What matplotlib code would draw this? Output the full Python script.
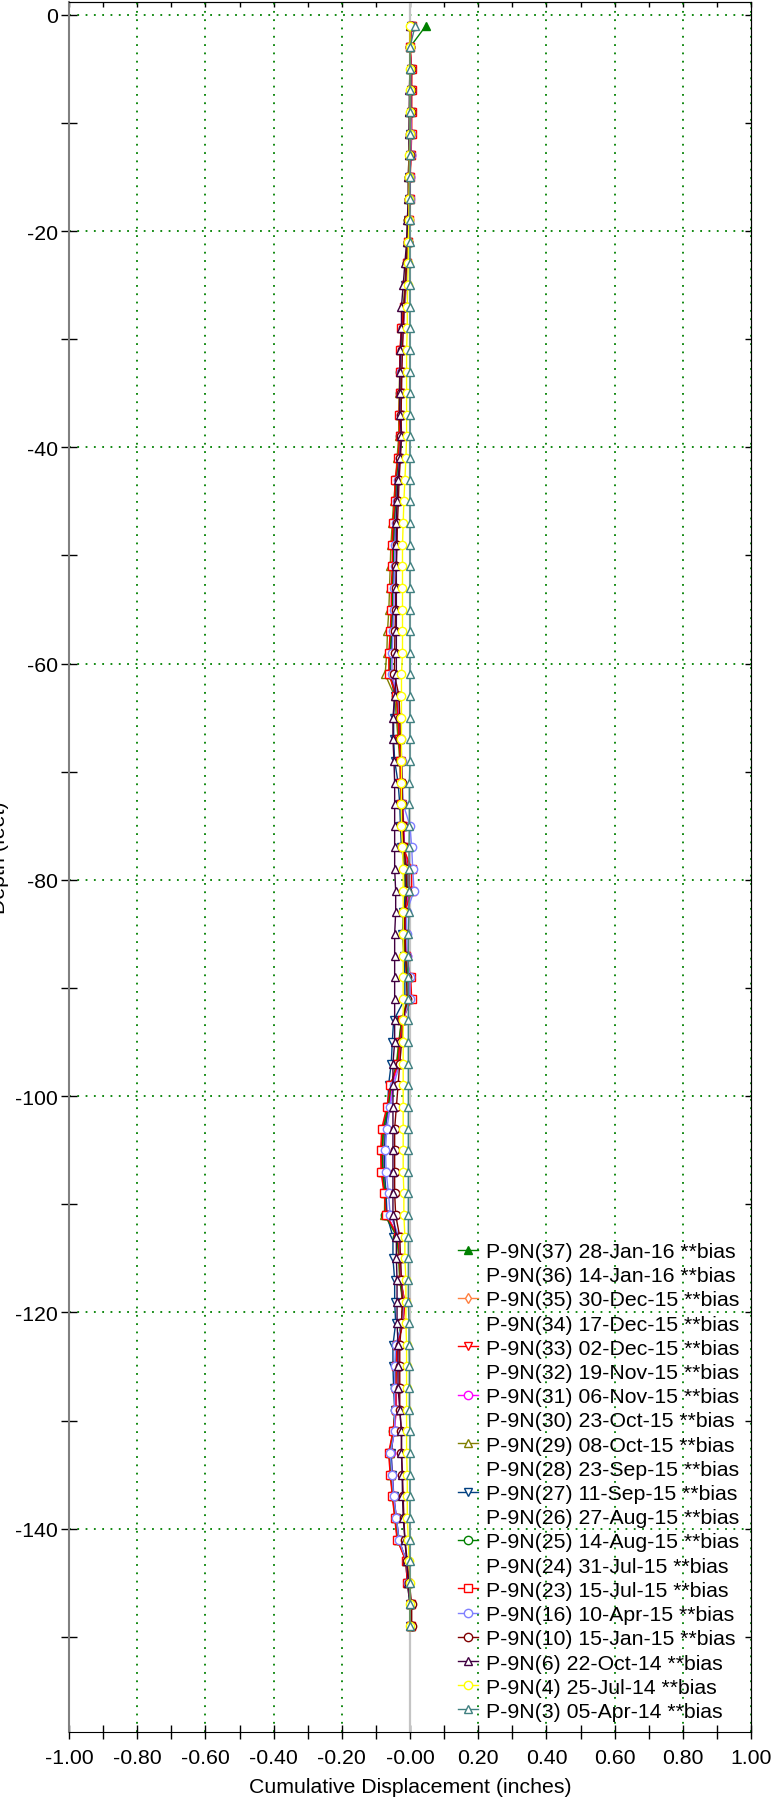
import numpy as np
import matplotlib.pyplot as plt
from matplotlib.lines import Line2D
from matplotlib.ticker import MultipleLocator

plt.rcParams['font.family'] = ['Liberation Sans', 'DejaVu Sans']
plt.rcParams['axes.unicode_minus'] = False

# =====================================================================
# DATA  (displacement in thousandths of an inch)
# =====================================================================
depth = np.arange(-1, -150, -2)   # readings every 2 ft, -1 .. -149

p37 = [47, 0, 4, 4, 4, 3, 2, 0, -1, -3,
       -5, -9, -12, -16, -22, -26, -27, -28, -29, -28,
       -33, -40, -42, -46, -48, -49, -52, -52, -55, -58,
       -59, -38, -33, -30, -26, -25, -23, -20, -18, -4,
       -3, -14, -14, -11, -4, -2, -22, -29, -35, -55,
       -64, -79, -82, -81, -74, -69, -35, -30, -27, -17,
       -21, -37, -39, -41, -41, -48, -60, -56, -50, -43,
       -36, -11, -6, 3, 3]
p35 = [5, 0, 5, 4, 4, 4, 3, 1, 0, -2,
       -4, -8, -11, -15, -20, -24, -25, -26, -28, -26,
       -31, -38, -40, -44, -46, -48, -50, -50, -53, -56,
       -58, -37, -32, -29, -25, -24, -22, -19, -17, -5,
       -4, -13, -13, -10, -3, -1, -21, -28, -34, -54,
       -63, -77, -80, -79, -72, -68, -34, -29, -26, -16,
       -20, -36, -38, -40, -40, -47, -58, -54, -49, -42,
       -35, -10, -6, 3, 3]
p33 = [5, 0, 4, 4, 4, 4, 2, 0, -1, -3,
       -5, -9, -12, -17, -23, -27, -28, -29, -30, -29,
       -34, -42, -43, -48, -50, -50, -53, -53, -56, -60,
       -60, -39, -34, -31, -27, -26, -24, -21, -19, -2,
       -2, -15, -15, -12, -2, 0, -23, -30, -36, -57,
       -66, -80, -84, -83, -75, -70, -36, -31, -28, -17,
       -21, -38, -40, -42, -42, -49, -61, -57, -51, -44,
       -37, -11, -7, 3, 3]
p31 = [5, 0, 3, 3, 3, 3, 2, 0, -2, -3,
       -5, -8, -12, -16, -20, -24, -26, -26, -28, -27,
       -32, -38, -40, -44, -46, -47, -50, -50, -53, -56,
       -57, -38, -33, -30, -26, -25, -22, -18, -16, -8,
       -5, -14, -14, -10, -5, -2, -22, -28, -35, -52,
       -60, -74, -78, -77, -70, -68, -35, -30, -27, -18,
       -22, -36, -38, -40, -40, -46, -56, -52, -47, -40,
       -33, -10, -5, 2, 3]
p29 = [3, 0, 0, 0, -2, -2, -3, -5, -5, -7,
       -8, -12, -15, -20, -25, -28, -30, -32, -33, -33,
       -38, -42, -48, -52, -56, -58, -60, -62, -66, -68,
       -73, -45, -40, -35, -30, -28, -26, -24, -22, -15,
       -15, -18, -18, -15, -10, -8, -25, -33, -40, -55,
       -65, -78, -80, -80, -74, -75, -38, -33, -30, -22,
       -25, -38, -40, -42, -42, -48, -58, -55, -50, -42,
       -35, -12, -8, 0, 2]
p27 = [2, 0, 2, 2, 2, 0, 0, -2, -3, -5,
       -7, -10, -14, -18, -22, -25, -27, -28, -30, -30,
       -33, -40, -42, -46, -48, -50, -50, -52, -54, -56,
       -58, -45, -48, -48, -45, -35, -30, -28, -25, -15,
       -12, -20, -22, -18, -15, -15, -48, -52, -55, -63,
       -65, -72, -75, -75, -70, -68, -50, -50, -45, -45,
       -42, -50, -50, -48, -45, -48, -55, -52, -48, -40,
       -32, -12, -8, 0, 0]
p25 = [3, 0, 2, 2, 2, 2, 0, -2, -2, -5,
       -6, -10, -13, -17, -22, -26, -28, -28, -30, -28,
       -33, -40, -42, -46, -48, -50, -52, -52, -55, -58,
       -60, -40, -36, -32, -28, -26, -24, -20, -18, -10,
       -8, -16, -16, -13, -5, -3, -25, -32, -38, -56,
       -64, -78, -82, -80, -74, -72, -38, -32, -30, -20,
       -24, -40, -42, -43, -43, -50, -60, -56, -50, -42,
       -35, -10, -6, 2, 2]
p23 = [5, 0, 5, 5, 5, 5, 3, 0, 0, -3,
       -5, -10, -12, -18, -25, -30, -30, -30, -32, -30,
       -35, -44, -45, -50, -52, -52, -55, -55, -58, -62,
       -62, -40, -35, -32, -28, -28, -25, -22, -20, 5,
       5, -15, -15, -12, 2, 5, -22, -30, -35, -58,
       -68, -83, -86, -85, -76, -70, -35, -30, -28, -15,
       -20, -38, -40, -42, -42, -50, -63, -58, -52, -45,
       -38, -12, -8, 3, 3]
p16 = [3, 0, 3, 3, 3, 3, 2, 0, -1, -3,
       -5, -8, -11, -15, -20, -23, -25, -25, -27, -26,
       -30, -36, -38, -42, -44, -45, -47, -47, -50, -52,
       -53, -35, -30, -27, -24, -22, -20, 0, 5, 8,
       12, -10, -10, -8, 0, 0, -20, -25, -30, -48,
       -58, -68, -72, -70, -63, -58, -32, -28, -25, -20,
       -22, -42, -45, -45, -45, -45, -58, -53, -48, -40,
       -33, -10, -5, 2, 2]
p10 = [2, 0, 2, 2, 2, 0, 0, -2, -3, -5,
       -7, -10, -13, -17, -20, -22, -24, -25, -26, -25,
       -28, -32, -34, -37, -38, -40, -42, -42, -44, -45,
       -46, -32, -30, -28, -25, -23, -22, -20, -18, -12,
       -10, -15, -15, -13, -10, -8, -20, -25, -30, -35,
       -40, -45, -45, -45, -45, -42, -30, -28, -25, -22,
       -25, -30, -30, -30, -30, -25, -25, -22, -20, -18,
       -15, -8, -2, 5, 5]
p6 = [0, 0, 0, -2, -2, -3, -3, -5, -5, -8,
      -10, -15, -20, -25, -25, -28, -30, -30, -30, -25,
      -30, -35, -38, -40, -40, -40, -40, -40, -40, -40,
      -40, -45, -50, -50, -47, -45, -45, -45, -45, -45,
      -42, -42, -45, -45, -45, -45, -45, -45, -50, -50,
      -50, -50, -50, -50, -50, -50, -40, -40, -38, -38,
      -38, -35, -35, -35, -30, -25, -25, -23, -22, -20,
      -15, -10, -5, 0, 0]
p4 = [0, 0, 0, 0, 0, 0, -2, -2, -3, -3,
      -5, -5, -7, -8, -8, -10, -10, -10, -10, -10,
      -12, -15, -18, -20, -22, -22, -22, -22, -22, -22,
      -25, -25, -25, -25, -25, -25, -25, -25, -22, -20,
      -20, -20, -20, -20, -20, -20, -20, -20, -20, -20,
      -20, -20, -20, -20, -18, -18, -15, -15, -12, -12,
      -12, -10, -10, -10, -10, -10, -10, -8, -8, -8,
      -5, -3, 0, 0, 0]
p3 = [15, 0, 0, 0, 0, 0, 0, 0, 0, 0,
      0, 0, 0, 0, 0, 0, 0, 0, 0, 0,
      0, 0, 0, 0, 0, 0, 0, 0, 0, 0,
      0, 0, 0, 0, 0, -2, -2, -2, -3, -3,
      -3, -3, -5, -5, -5, -5, -5, -5, -5, -5,
      -5, -5, -5, -5, -5, -5, -5, -5, -5, -5,
      -3, -3, -2, -2, -2, 0, 0, 0, 0, 0,
      0, 0, 0, 0, 0]

labels = ['P-9N(37) 28-Jan-16 **bias', 'P-9N(36) 14-Jan-16 **bias',
          'P-9N(35) 30-Dec-15 **bias', 'P-9N(34) 17-Dec-15 **bias',
          'P-9N(33) 02-Dec-15 **bias', 'P-9N(32) 19-Nov-15 **bias',
          'P-9N(31) 06-Nov-15 **bias', 'P-9N(30) 23-Oct-15 **bias',
          'P-9N(29) 08-Oct-15 **bias', 'P-9N(28) 23-Sep-15 **bias',
          'P-9N(27) 11-Sep-15 **bias', 'P-9N(26) 27-Aug-15 **bias',
          'P-9N(25) 14-Aug-15 **bias', 'P-9N(24) 31-Jul-15 **bias',
          'P-9N(23) 15-Jul-15 **bias', 'P-9N(16) 10-Apr-15 **bias',
          'P-9N(10) 15-Jan-15 **bias', 'P-9N(6) 22-Oct-14 **bias',
          'P-9N(4) 25-Jul-14 **bias', 'P-9N(3) 05-Apr-14 **bias']
values = [p37, None, p35, None, p33, None, p31, None, p29, None,
          p27, None, p25, None, p23, p16, p10, p6, p4, p3]
colors = ['#008000', None, '#FF8040', None, '#FF0000', None, '#FF00FF', None,
          '#808000', None, '#004080', None, '#008000', None, '#FF0000',
          '#8080FF', '#800000', '#400040', '#FFFF00', '#408080']
markers = ['^', None, 'd', None, 'v', None, 'o', None, '^', None,
           'v', None, 'o', None, 's', 'o', 'o', '^', 'o', '^']

xtick_vals = [-1.0, -0.8, -0.6, -0.4, -0.2, 0.0, 0.2, 0.4, 0.6, 0.8, 1.0]
xtick_labels = ['-1.00', '-0.80', '-0.60', '-0.40', '-0.20', '-0.00',
                '0.20', '0.40', '0.60', '0.80', '1.00']
ytick_vals = [0, -20, -40, -60, -80, -100, -120, -140]

# =====================================================================
# PLOT
# =====================================================================
W, H = 775, 1806
FS = 15.3
fig = plt.figure(figsize=(W / 100, H / 100), dpi=100)
ax = fig.add_axes([69 / W, 1 - 1733 / H, (751 - 69) / W, (1733 - 3.3) / H])

ax.axvline(0, color='#C4C4C4', lw=1.6, zorder=1.5)

handles = []
for i, (lab, v) in enumerate(zip(labels, values)):
    if v is None:
        handles.append(Line2D([], [], linestyle='none', label=lab))
        continue
    face = colors[i] if i == 0 else 'white'
    ms = 5 if markers[i] == 'd' else 6
    ln, = ax.plot(np.array(v) / 1000.0, depth, color=colors[i], lw=1.0,
                  marker=markers[i], markersize=ms, markerfacecolor=face,
                  markeredgecolor=colors[i], markeredgewidth=1.0,
                  label=lab, zorder=2 + i * 0.01)
    handles.append(ln)

ax.set_xlim(-1.0, 1.0)
ax.set_ylim(-158.8, 1.15)
ax.set_xticks(xtick_vals)
ax.set_xticklabels(xtick_labels)
ax.set_yticks(ytick_vals)
ax.set_yticklabels([str(t) for t in ytick_vals])
ax.xaxis.set_minor_locator(MultipleLocator(0.1))
ax.yaxis.set_minor_locator(MultipleLocator(10))
ax.tick_params(axis='x', which='both', direction='inout', length=9.5,
               width=1, labelsize=FS, pad=7)
ax.tick_params(axis='y', which='both', direction='inout', length=12,
               width=1, labelsize=FS, pad=2)

top = ax.secondary_xaxis('top')
top.xaxis.set_major_locator(MultipleLocator(0.1))
top.tick_params(direction='in', length=3.6, width=1, labeltop=False)
right = ax.secondary_yaxis('right')
right.yaxis.set_major_locator(MultipleLocator(10))
right.tick_params(direction='in', length=4.3, width=1, labelright=False)

ax.spines['left'].set_color('#808080')
ax.spines['left'].set_linewidth(1.5)

ax.grid(True, which='major', color='#008000', linestyle=(0, (1, 3.6)),
        linewidth=1.3)
ax.set_axisbelow(True)

ax.set_xlabel('Cumulative Displacement (inches)', fontsize=FS, labelpad=7)
ax.set_ylabel('Depth (feet)', fontsize=FS)
ax.yaxis.set_label_coords(-0.088, 0.506)

ax.legend(handles=handles, loc='upper left',
          bbox_to_anchor=(458 / W, 1 - 1243 / H), bbox_transform=fig.transFigure,
          frameon=False, fontsize=FS, handlelength=0.96, handletextpad=0.34,
          labelspacing=0.245, borderpad=0, borderaxespad=0)

fig.savefig('out.png', dpi=100)
